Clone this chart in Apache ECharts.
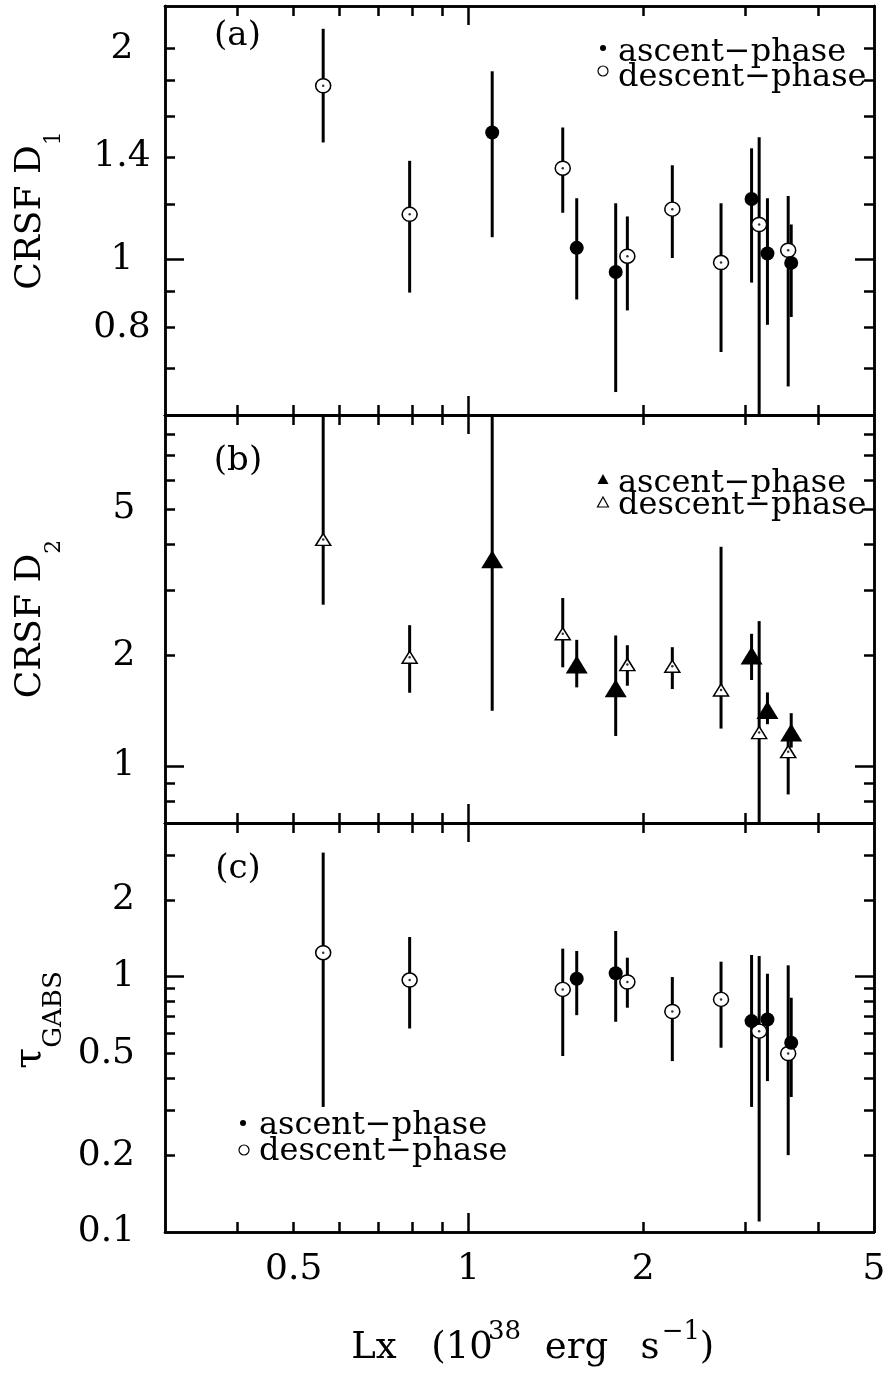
<!DOCTYPE html>
<html>
<head>
<meta charset="utf-8">
<script src="https://cdn.jsdelivr.net/npm/echarts@6/dist/echarts.min.js"></script>
<style>html,body{margin:0;padding:0;background:#fff}#chart{width:889px;height:1384px}</style>
</head>
<body>
<div id="chart"></div>
<script>
// ---------------- data ----------------
const lxAscent    = [1.099, 1.537, 1.794, 3.076, 3.276, 3.600];
const lxDescent   = [0.562, 0.792, 1.454, 1.879, 2.246, 2.725, 3.170, 3.557];
const lxAscentTau = [1.537, 1.794, 3.076, 3.276, 3.600];

// panel (a) CRSF D1
const d1Ascent    = [1.518, 1.039, 0.960, 1.220, 1.020, 0.989];
const d1AscentLo  = [1.076, 0.877, 0.647, 0.927, 0.807, 0.828];
const d1AscentHi  = [1.856, 1.223, 1.203, 1.441, 1.223, 1.122];
const d1Descent   = [1.770, 1.160, 1.350, 1.011, 1.180, 0.990, 1.122, 1.031];
const d1DescentLo = [1.469, 0.897, 1.166, 0.846, 1.005, 0.738, 0.450, 0.659];
const d1DescentHi = [2.134, 1.383, 1.543, 1.152, 1.363, 1.203, 1.494, 1.232];

// panel (b) CRSF D2
const d2Ascent    = [3.650, 1.887, 1.626, 1.996, 1.419, 1.233];
const d2AscentLo  = [1.413, 1.636, 1.207, 1.713, 1.299, 1.122];
const d2AscentHi  = [12.00, 2.203, 2.264, 2.288, 1.585, 1.392];
const d2Descent   = [4.130, 1.975, 2.288, 1.887, 1.867, 1.609, 1.233, 1.094];
const d2DescentLo = [2.745, 1.582, 1.855, 1.653, 1.619, 1.264, 0.500, 0.837];
const d2DescentHi = [12.00, 2.415, 2.862, 2.130, 2.104, 3.944, 2.477, 1.220];

// panel (c) tau GABS
const tauAscent    = [0.982, 1.031, 0.670, 0.680, 0.551];
const tauAscentLo  = [0.707, 0.666, 0.309, 0.390, 0.338];
const tauAscentHi  = [1.261, 1.510, 1.216, 1.027, 0.827];
const tauDescent   = [1.242, 0.970, 0.892, 0.953, 0.731, 0.815, 0.612, 0.500];
const tauDescentLo = [0.309, 0.627, 0.489, 0.756, 0.467, 0.527, 0.110, 0.200];
const tauDescentHi = [3.063, 1.431, 1.288, 1.187, 0.997, 1.145, 1.205, 1.108];

// ticks / tick labels
const xTickLabels = [0.5, 1, 2, 5];
const xMinorTicks = [0.4, 0.5, 0.6, 0.7, 0.8, 0.9, 2, 3, 4];
const xMajorTicks = [1];
const yLabelsA = [0.8, 1, 1.4, 2];
const yMinorA  = [0.7, 0.8, 0.9, 1.2, 1.4, 1.6, 1.8, 2];
const yLabelsB = [1, 2, 5];
const yMinorB  = [0.8, 0.9, 2, 3, 4, 5, 6, 7, 8];
const yLabelsC = [0.1, 0.2, 0.5, 1, 2];
const yMinorC  = [0.2, 0.3, 0.4, 0.5, 0.6, 0.7, 0.8, 0.9, 2, 3];
const yMajor   = [1];

// ---------------- chart ----------------
const FONT = "'DejaVu Serif', serif";
const chart = echarts.init(document.getElementById('chart'));

const panels = [
  {top: 6,   height: 409, min: 0.6, max: 2.3, minor: yMinorA, labels: yLabelsA, align: 'center', margin: 43},
  {top: 415, height: 408, min: 0.7, max: 9,   minor: yMinorB, labels: yLabelsB, align: 'center', margin: 41},
  {top: 823, height: 409, min: 0.1, max: 4,   minor: yMinorC, labels: yLabelsC, align: 'right',  margin: 30}
];

const fmt = v => String(+(+v).toPrecision(3));
const lineStyle = {color: '#000', width: 2.5};

function axis(g, pos, min, max, ticks, len, labelCfg) {
  const a = {
    type: 'log', logBase: 10, gridIndex: g, position: pos, min: min, max: max,
    axisLine: {show: true, lineStyle: lineStyle},
    axisTick: {show: true, inside: true, length: len, customValues: ticks, lineStyle: lineStyle},
    minorTick: {show: false}, splitLine: {show: false}, minorSplitLine: {show: false},
    axisLabel: {show: false}
  };
  if (labelCfg) {
    a.axisLabel = Object.assign({
      show: true, customValues: labelCfg.values, fontFamily: FONT, fontSize: 36, color: '#000',
      formatter: fmt, showMinLabel: true, showMaxLabel: true, hideOverlap: false
    }, labelCfg.extra);
  }
  return a;
}

const grids = [], xAxes = [], yAxes = [];
panels.forEach((p, g) => {
  grids.push({left: 165, right: 15, top: p.top, height: p.height, containLabel: false, outerBoundsMode: 'none'});
  xAxes.push(axis(g, 'bottom', 0.3, 5, xMinorTicks, 10,
    g === 2 ? {values: xTickLabels, extra: {margin: 20}} : null));
  xAxes.push(axis(g, 'bottom', 0.3, 5, xMajorTicks, 19, null));
  xAxes.push(axis(g, 'top', 0.3, 5, xMinorTicks, 10, null));
  xAxes.push(axis(g, 'top', 0.3, 5, xMajorTicks, 19, null));
  yAxes.push(axis(g, 'left', p.min, p.max, p.minor, 10,
    {values: p.labels, extra: {margin: p.margin, align: p.align}}));
  yAxes.push(axis(g, 'left', p.min, p.max, yMajor, 19, null));
  yAxes.push(axis(g, 'right', p.min, p.max, p.minor, 10, null));
  yAxes.push(axis(g, 'right', p.min, p.max, yMajor, 19, null));
});

function errSeries(g, xs, lo, hi) {
  return {
    type: 'custom', xAxisIndex: 4 * g, yAxisIndex: 4 * g, clip: true, z: 2, silent: true,
    data: xs.map((x, i) => [x, lo[i], hi[i]]),
    encode: {x: 0, y: [1, 2]},
    renderItem: (params, api) => {
      const x = api.value(0);
      const a = api.coord([x, api.value(1)]);
      const b = api.coord([x, api.value(2)]);
      return {type: 'line', shape: {x1: a[0], y1: a[1], x2: b[0], y2: b[1]},
              style: {stroke: '#000', lineWidth: 3}};
    }
  };
}
function markSeries(g, xs, ys, symbol, size, filled) {
  return {
    type: 'scatter', xAxisIndex: 4 * g, yAxisIndex: 4 * g, symbol: symbol, symbolSize: size,
    z: 3, silent: true, emphasis: {disabled: true},
    data: xs.map((x, i) => [x, ys[i]]),
    itemStyle: filled ? {color: '#000', opacity: 1}
                      : {color: '#fff', borderColor: '#000', borderWidth: 1.5, opacity: 1}
  };
}
function dotSeries(g, xs, ys) {
  return {
    type: 'scatter', xAxisIndex: 4 * g, yAxisIndex: 4 * g, symbol: 'circle', symbolSize: 2.5,
    z: 4, silent: true, emphasis: {disabled: true},
    data: xs.map((x, i) => [x, ys[i]]), itemStyle: {color: '#000'}
  };
}

const series = [
  errSeries(0, lxAscent, d1AscentLo, d1AscentHi),
  errSeries(0, lxDescent, d1DescentLo, d1DescentHi),
  markSeries(0, lxDescent, d1Descent, 'circle', [15, 14], false),
  dotSeries(0, lxDescent, d1Descent),
  markSeries(0, lxAscent, d1Ascent, 'circle', 14, true),

  errSeries(1, lxAscent, d2AscentLo, d2AscentHi),
  errSeries(1, lxDescent, d2DescentLo, d2DescentHi),
  markSeries(1, lxDescent, d2Descent, 'triangle', [15, 12], false),
  dotSeries(1, lxDescent, d2Descent),
  markSeries(1, lxAscent, d2Ascent, 'triangle', [22, 18], true),

  errSeries(2, lxAscentTau, tauAscentLo, tauAscentHi),
  errSeries(2, lxDescent, tauDescentLo, tauDescentHi),
  markSeries(2, lxDescent, tauDescent, 'circle', [15, 14], false),
  dotSeries(2, lxDescent, tauDescent),
  markSeries(2, lxAscentTau, tauAscent, 'circle', 14, true)
];

// ---------------- texts ----------------
const ctx = document.createElement('canvas').getContext('2d');
function measure(text, size) { ctx.font = size + 'px ' + FONT; return ctx.measureText(text).width; }
function txt(text, x, y, size, align, rot) {
  return {type: 'text', x: x, y: y, rotation: rot || 0, z: 10, silent: true,
    style: {text: text, font: size + 'px ' + FONT, fill: '#000',
            textAlign: align || 'center', align: align || 'center',
            textVerticalAlign: 'middle', verticalAlign: 'middle'}};
}
// run of text segments along a direction (rot = PI/2 -> reading bottom to top)
function run(segs, cx, cy, rot) {
  const w = segs.map(s => measure(s.text, s.size));
  const total = w.reduce((a, b) => a + b, 0);
  const ux = Math.cos(rot), uy = -Math.sin(rot);
  const px = Math.sin(rot), py = Math.cos(rot);
  let pos = -total / 2;
  return segs.map((s, i) => {
    const mid = pos + w[i] / 2; pos += w[i];
    const dy = s.dy || 0;
    return txt(s.text, cx + ux * mid + px * dy, cy + uy * mid + py * dy, s.size, 'center', rot);
  });
}

const R = Math.PI / 2;
const graphics = [].concat(
  run([{text: 'CRSF D', size: 36}, {text: '1', size: 22, dy: 24}], 30.5, 210.5, R),
  run([{text: 'CRSF D', size: 36}, {text: '2', size: 22, dy: 24}], 30.5, 619, R),
  run([{text: 'τ', size: 38}, {text: 'GABS', size: 26, dy: 24}], 30, 1020, R),
  [
    txt('(a)', 237.5, 36, 34), txt('(b)', 238, 461, 34), txt('(c)', 238, 869, 34),
    // x axis title
    txt('Lx', 374, 1348, 37), txt('(10', 462, 1348, 37), txt('38', 504.5, 1332, 26),
    txt('erg', 576.5, 1348, 37), txt('s', 650, 1348, 37), txt('−1', 681, 1332, 26), txt(')', 707, 1348, 37),
    // legend (a)
    {type: 'circle', shape: {cx: 603, cy: 48, r: 3}, style: {fill: '#000'}, z: 10, silent: true},
    {type: 'circle', shape: {cx: 603, cy: 71, r: 5}, style: {fill: '#fff', stroke: '#000', lineWidth: 1.2}, z: 10, silent: true},
    txt('ascent−phase', 618, 52.5, 32, 'left'), txt('descent−phase', 618, 77.5, 32, 'left'),
    // legend (b)
    {type: 'polygon', shape: {points: [[597.5, 484], [608.5, 484], [603, 474]]}, style: {fill: '#000'}, z: 10, silent: true},
    {type: 'polygon', shape: {points: [[597.5, 507], [608.5, 507], [603, 497]]}, style: {fill: '#fff', stroke: '#000', lineWidth: 1.2}, z: 10, silent: true},
    txt('ascent−phase', 618, 484, 32, 'left'), txt('descent−phase', 618, 506, 32, 'left'),
    // legend (c)
    {type: 'circle', shape: {cx: 243, cy: 1123, r: 3}, style: {fill: '#000'}, z: 10, silent: true},
    {type: 'circle', shape: {cx: 244, cy: 1150, r: 5}, style: {fill: '#fff', stroke: '#000', lineWidth: 1.2}, z: 10, silent: true},
    txt('ascent−phase', 259, 1126, 32, 'left'), txt('descent−phase', 259, 1152, 32, 'left')
  ]
);

chart.setOption({
  animation: false,
  backgroundColor: '#fff',
  grid: grids,
  xAxis: xAxes,
  yAxis: yAxes,
  series: series,
  graphic: {elements: graphics}
});
</script>
</body>
</html>
